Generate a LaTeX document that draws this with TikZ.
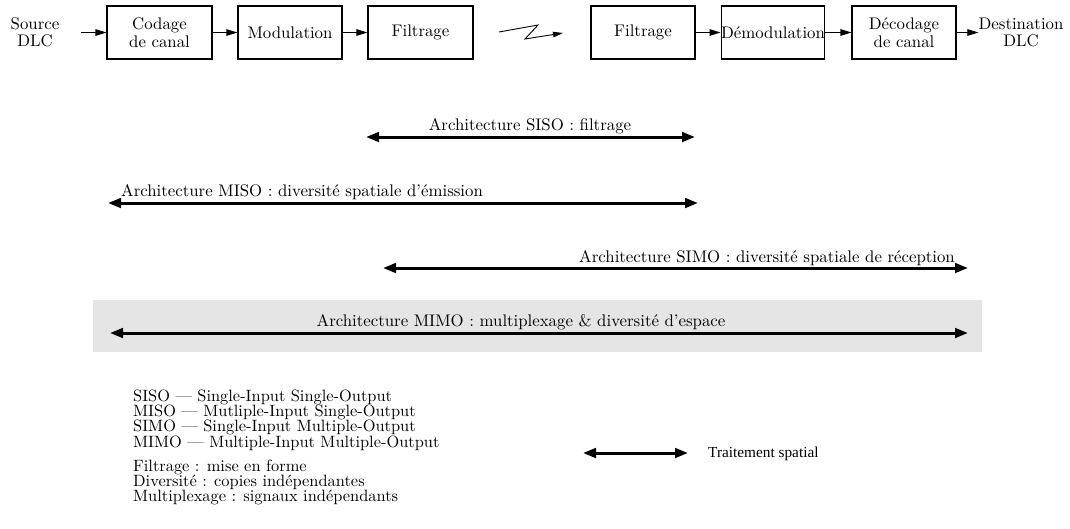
\documentclass[tikz,border=0pt]{standalone}
\usepackage{fontspec}
\setmainfont{lmroman10-regular.otf}
\newfontfamily\timesf{Liberation Serif}
\usetikzlibrary{arrows.meta}
\newcommand\boxfont{\fontsize{16.8}{17.5}\selectfont}
\newcommand\legfont{\fontsize{16.4}{15.3}\selectfont}
\begin{document}
\begin{tikzpicture}[x=1pt,y=-1pt,
  box/.style={draw,line width=1.1pt,minimum width=104pt,minimum height=53pt,inner sep=0pt,font=\boxfont,align=center},
  txt/.style={inner sep=0pt,font=\boxfont,align=center},
  lbl/.style={inner sep=0pt,font=\boxfont},
  leg/.style={inner sep=0pt,font=\legfont,anchor=north west,align=left},
  ta/.style={line width=1.1pt,-{Triangle[length=11pt,width=6.5pt]}},
  big/.style={line width=3pt,{Triangle[length=13pt,width=9.5pt]}-{Triangle[length=13pt,width=9.5pt]}}]
\useasboundingbox (0,0) rectangle (1070,528);
% background band for MIMO
\fill[gray!20] (93,300) rectangle (982,352);
% top chain
\node[txt] (src) at (35,32.5) {Source\\DLC};
\node[box,minimum width=105pt] (cod) at (159.5,32.5) {Codage\\de canal};
\node[box] (mod) at (290,32.5) {Modulation};
\node[box,minimum width=105pt] (fil1) at (420.5,32.5) {Filtrage};
\node[box] (fil2) at (643,32.5) {Filtrage};
\node[box,minimum width=102pt] (dem) at (773,32.5) {Démodulation};
\node[box] (dec) at (904,32.5) {Décodage\\de canal};
\node[txt] (dst) at (1021,32.5) {Destination\\DLC};
\draw[ta,shorten <=22pt] (src) -- (cod);
\draw[ta] (cod) -- (mod);
\draw[ta] (mod) -- (fil1);
\draw[ta] (fil2) -- (dem);
\draw[ta] (dem) -- (dec);
\draw[ta] (dec) -- (dst);
% channel zigzag
\coordinate (z1) at (499,32);
\coordinate (z2) at (538,25);
\coordinate (z3) at (525,39);
\coordinate (z4) at (563,33);
\draw[ta,line width=0.9pt,-{Triangle[length=10pt,width=5.5pt]}] (z1) -- (z2) -- (z3) -- (z4);
% architectures
\coordinate (sisoL) at (366,137);
\coordinate (sisoR) at (695,137);
\draw[big] (sisoL) -- (sisoR);
\node[lbl,anchor=base] (sisoT) at (530,130) {Architecture SISO : filtrage};
\coordinate (misoL) at (108,203);
\coordinate (misoR) at (698,203);
\draw[big] (misoL) -- (misoR);
\node[lbl,anchor=base west] (misoT) at (121,196) {Architecture MISO : diversité spatiale d’émission};
\coordinate (simoL) at (383,268);
\coordinate (simoR) at (968,268);
\draw[big] (simoL) -- (simoR);
\node[lbl,anchor=base east] (simoT) at (955,262) {Architecture SIMO : diversité spatiale de réception};
\coordinate (mimoL) at (110,333);
\coordinate (mimoR) at (968,333);
\draw[big] (mimoL) -- (mimoR);
\node[lbl,anchor=base] (mimoT) at (521,326) {Architecture MIMO : multiplexage \& diversité d’espace};
% legend
\node[leg] (acr) at (133,389.6) {SISO --- Single-Input Single-Output\\
MISO --- Mutliple-Input Single-Output\\
SIMO --- Single-Input Multiple-Output\\
MIMO --- Multiple-Input Multiple-Output};
\node[leg] (defs) at (133,459.6) {Filtrage : mise en forme\\
Diversité : copies indépendantes\\
Multiplexage : signaux indépendants};
\coordinate (tsL) at (583,453);
\coordinate (tsR) at (688,453);
\draw[big] (tsL) -- (tsR);
\node[inner sep=0pt,anchor=base west,font=\timesf\fontsize{15.3}{16}\selectfont] (tsT) at (708,457) {Traitement spatial};
\end{tikzpicture}
\end{document}
